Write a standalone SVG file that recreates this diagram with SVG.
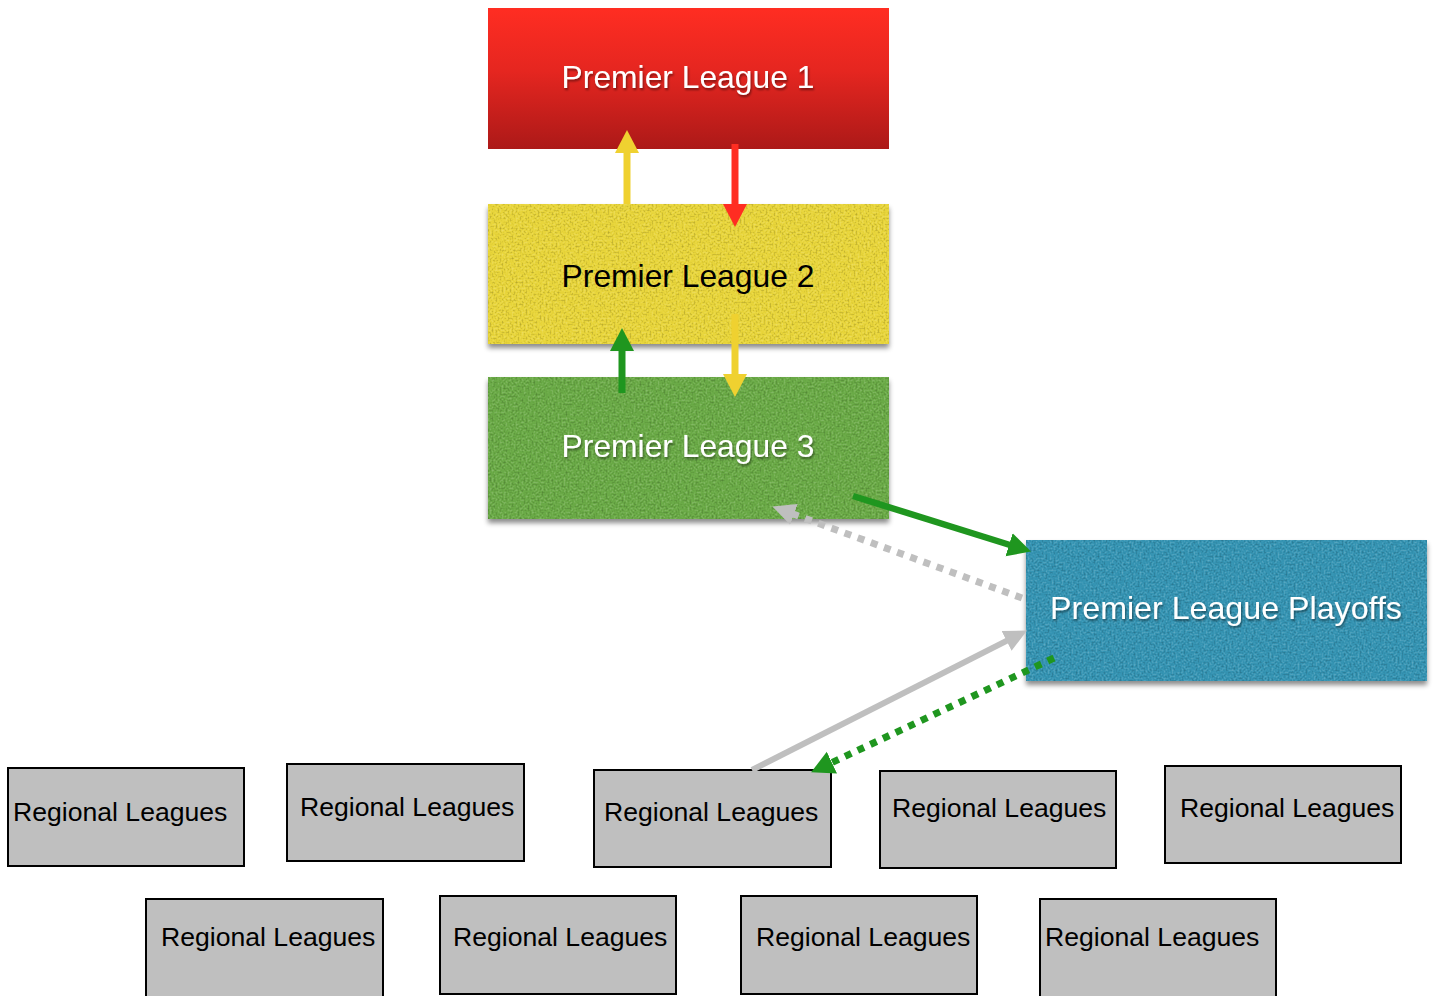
<svg xmlns="http://www.w3.org/2000/svg" width="1434" height="996" viewBox="0 0 1434 996">
<style>
.lbl{font-family:"Liberation Sans",Arial,sans-serif;font-size:31.8px;text-anchor:middle}
.w{fill:#ffffff}
.k{fill:#000000}
.reg rect{fill:#bfbfbf;stroke:#000;stroke-width:2}
.reg text{font-family:"Liberation Sans",Arial,sans-serif;font-size:26.6px;fill:#000}
.c{fill:none}
</style>
<defs>
<linearGradient id="red" x1="0" y1="0" x2="0" y2="1">
<stop offset="0" stop-color="#ff2d22"/>
<stop offset="0.45" stop-color="#e52620"/>
<stop offset="1" stop-color="#ac1918"/>
</linearGradient>
<filter id="tex" x="0" y="0" width="1" height="1" color-interpolation-filters="sRGB">
<feTurbulence type="fractalNoise" baseFrequency="0.5" numOctaves="2" seed="4" result="n"/>
<feColorMatrix in="n" type="matrix" values="0 0 0 0 0  0 0 0 0 0  0 0 0 0 0  0.6 0 0 0 -0.3" result="d"/>
<feComposite in="d" in2="SourceGraphic" operator="in" result="d2"/>
<feColorMatrix in="n" type="matrix" values="0 0 0 0 1  0 0 0 0 1  0 0 0 0 1  -0.6 0 0 0 0.3" result="l"/>
<feComposite in="l" in2="SourceGraphic" operator="in" result="l2"/>
<feMerge><feMergeNode in="SourceGraphic"/><feMergeNode in="d2"/><feMergeNode in="l2"/></feMerge>
</filter>
<filter id="shadow" x="-5%" y="-5%" width="110%" height="125%">
<feDropShadow dx="0" dy="4" stdDeviation="2.5" flood-color="#000" flood-opacity="0.45"/>
</filter>
<filter id="ts" x="-5%" y="-20%" width="110%" height="150%">
<feDropShadow dx="1" dy="2" stdDeviation="1.2" flood-color="#000" flood-opacity="0.45"/>
</filter>
<marker id="hY" viewBox="0 -13 24 26" refX="1" refY="0" markerWidth="24" markerHeight="26" markerUnits="userSpaceOnUse" orient="auto"><path d="M0,-12 L23,0 L0,12 z" fill="#efd130"/></marker>
<marker id="hR" viewBox="0 -13 24 26" refX="1" refY="0" markerWidth="24" markerHeight="26" markerUnits="userSpaceOnUse" orient="auto"><path d="M0,-12 L23,0 L0,12 z" fill="#ff2d22"/></marker>
<marker id="hG" viewBox="0 -13 24 26" refX="1" refY="0" markerWidth="24" markerHeight="26" markerUnits="userSpaceOnUse" orient="auto"><path d="M0,-12 L23,0 L0,12 z" fill="#1f961f"/></marker>
<marker id="hS" viewBox="0 -13 24 26" refX="1" refY="0" markerWidth="24" markerHeight="26" markerUnits="userSpaceOnUse" orient="auto"><path d="M0,-11 L23,0 L0,11 z" fill="#bfbfbf"/></marker>
</defs>
<rect width="1434" height="996" fill="#ffffff"/>

<g id="pl1">
<rect x="488" y="8" width="401" height="141" fill="url(#red)"/>
<text class="lbl w" x="688" y="88" filter="url(#ts)">Premier League 1</text>
</g>
<g id="pl2">
<g filter="url(#shadow)"><rect x="488" y="204" width="401" height="140" fill="#e8d53a" filter="url(#tex)"/></g>
<text class="lbl k" x="688" y="287">Premier League 2</text>
</g>
<g id="pl3">
<g filter="url(#shadow)"><rect x="488" y="377" width="401" height="142" fill="#6aaa46" filter="url(#tex)"/></g>
<text class="lbl w" x="688" y="457" filter="url(#ts)">Premier League 3</text>
</g>
<g id="playoffs">
<g filter="url(#shadow)"><rect x="1026" y="540" width="401" height="141" fill="#3594b3" filter="url(#tex)"/></g>
<text class="lbl w" x="1226" y="619" style="font-size:32.2px" filter="url(#ts)">Premier League Playoffs</text>
</g>

<g id="reg1" class="reg"><rect x="8" y="768" width="236" height="98"/><text x="13" y="821">Regional Leagues</text></g>
<g id="reg2" class="reg"><rect x="287" y="764" width="237" height="97"/><text x="300" y="816">Regional Leagues</text></g>
<g id="reg3" class="reg"><rect x="594" y="770" width="237" height="97"/><text x="604" y="821">Regional Leagues</text></g>
<g id="reg4" class="reg"><rect x="880" y="771" width="236" height="97"/><text x="892" y="817">Regional Leagues</text></g>
<g id="reg5" class="reg"><rect x="1165" y="766" width="236" height="97"/><text x="1180" y="817">Regional Leagues</text></g>
<g id="reg6" class="reg"><rect x="146" y="899" width="237" height="100"/><text x="161" y="946">Regional Leagues</text></g>
<g id="reg7" class="reg"><rect x="440" y="896" width="236" height="98"/><text x="453" y="946">Regional Leagues</text></g>
<g id="reg8" class="reg"><rect x="741" y="896" width="236" height="98"/><text x="756" y="946">Regional Leagues</text></g>
<g id="reg9" class="reg"><rect x="1040" y="899" width="236" height="100"/><text x="1045" y="946">Regional Leagues</text></g>

<g id="connectors" class="c">
<line x1="627" y1="204" x2="627" y2="152" stroke="#efd130" stroke-width="7" marker-end="url(#hY)"/>
<line x1="735" y1="144" x2="735" y2="205" stroke="#ff2d22" stroke-width="7" marker-end="url(#hR)"/>
<line x1="622" y1="393" x2="622" y2="350" stroke="#1f961f" stroke-width="7" marker-end="url(#hG)"/>
<line x1="735" y1="314" x2="735" y2="375" stroke="#efd130" stroke-width="7" marker-end="url(#hY)"/>
<line x1="853" y1="496" x2="1010" y2="545" stroke="#1f961f" stroke-width="6.5" marker-end="url(#hG)"/>
<line x1="1022" y1="598" x2="793" y2="514" stroke="#bfbfbf" stroke-width="7" stroke-dasharray="7 7" marker-end="url(#hS)"/>
<line x1="752" y1="770" x2="1007.5" y2="640.4" stroke="#bfbfbf" stroke-width="6" marker-end="url(#hS)"/>
<line x1="1054" y1="658" x2="831" y2="763" stroke="#1f961f" stroke-width="7" stroke-dasharray="7 7" marker-end="url(#hG)"/>
</g>
</svg>
